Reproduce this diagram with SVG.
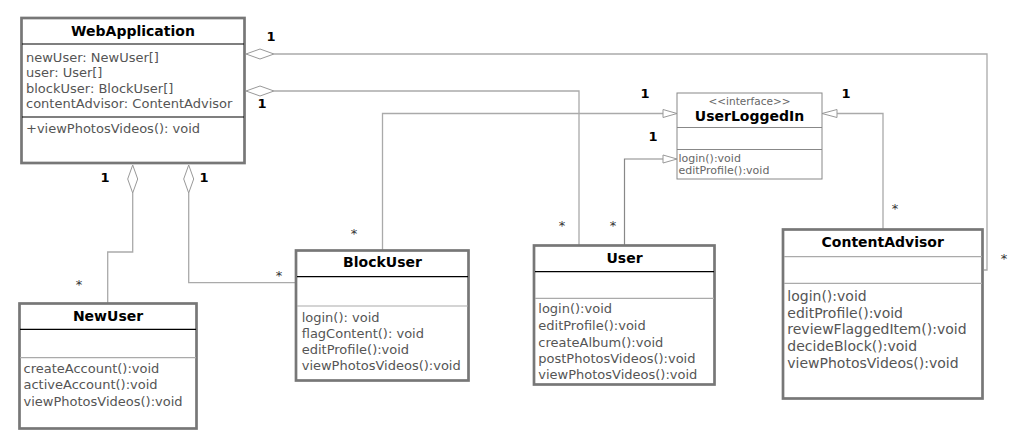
<svg xmlns="http://www.w3.org/2000/svg" width="1014" height="448" viewBox="0 0 1014 448">
  <style>
    text { font-family: "DejaVu Sans", Verdana, sans-serif; }
    .cls { fill: #fff; stroke: #777; stroke-width: 2.7; }
    .iface { fill: #fff; stroke: #888; stroke-width: 1; }
    .sepd { stroke: #000; stroke-width: 1.2; }
    .sepl { stroke: #aaa; stroke-width: 1.2; }
    .sepi { stroke: #888; stroke-width: 1; }
    .title { font-size: 14px; font-weight: bold; fill: #000; text-anchor: middle; }
    .mem { font-size: 13px; fill: #555; }
    .mem14 { font-size: 14px; fill: #555; }
    .small { font-size: 11px; fill: #666; }
    .stereo { font-size: 10.5px; fill: #666; text-anchor: middle; }
    .wire { fill: none; stroke: #aaa; stroke-width: 1.3; }
    .wire2 { fill: none; stroke: #888; stroke-width: 1.2; }
    .dia { fill: #fff; stroke: #999; stroke-width: 1; }
    .tri { fill: #fff; stroke: #999; stroke-width: 1; }
    .one { font-size: 13px; font-weight: bold; fill: #000; text-anchor: middle; }
    .many { font-size: 13px; fill: #333; text-anchor: middle; }
  </style>

  <!-- associations, aggregations and realizations -->
  <g id="connectors">
    <!-- WebApplication <>— ContentAdvisor -->
    <path class="wire" d="M274,54 H987 V270 H984"/>
    <polygon class="dia" points="246,54 260,49 274,54 260,59"/>
    <text class="one" x="271" y="41">1</text>
    <text class="many" x="1004" y="262.5">*</text>

    <!-- WebApplication <>— User -->
    <path class="wire" d="M274,91 H579 V245"/>
    <polygon class="dia" points="246,91 260,86 274,91 260,96"/>
    <text class="one" x="262" y="107.5">1</text>
    <text class="many" x="562" y="229.5">*</text>

    <!-- WebApplication <>— NewUser -->
    <path class="wire" d="M132.7,193 V252 H107.7 V303"/>
    <polygon class="dia" points="132.7,165 137.7,179 132.7,193 127.7,179"/>
    <text class="one" x="105" y="182">1</text>
    <text class="many" x="79" y="288.5">*</text>

    <!-- WebApplication <>— BlockUser -->
    <path class="wire" d="M188.7,193 V282.7 H296"/>
    <polygon class="dia" points="188.7,165 193.7,179 188.7,193 183.7,179"/>
    <text class="one" x="204" y="182">1</text>
    <text class="many" x="279" y="279.5">*</text>

    <!-- BlockUser ..|> UserLoggedIn -->
    <path class="wire" d="M382.5,250 V113.5 H663"/>
    <polygon class="tri" points="677,113.5 663,109.5 663,117.5"/>
    <text class="many" x="354" y="237.5">*</text>
    <text class="one" x="645" y="98">1</text>

    <!-- User ..|> UserLoggedIn -->
    <path class="wire2" d="M624.5,245 V159 H663"/>
    <polygon class="tri" points="677,159 663,155 663,163"/>
    <text class="many" x="613" y="229.5">*</text>
    <text class="one" x="653" y="141">1</text>

    <!-- ContentAdvisor ..|> UserLoggedIn -->
    <path class="wire" d="M883,229 V113.5 H837"/>
    <polygon class="tri" points="822,113.5 837,109.5 837,117.5"/>
    <text class="many" x="895" y="212.5">*</text>
    <text class="one" x="846" y="98">1</text>
  </g>

  <g id="WebApplication">
    <rect class="cls" x="21.5" y="18" width="223" height="145"/>
    <line class="sepd" x1="22" y1="44" x2="244" y2="44"/>
    <line class="sepd" x1="22" y1="117" x2="244" y2="117"/>
    <text class="title" x="133" y="35.5">WebApplication</text>
    <text class="mem" x="26" y="61.7">newUser: NewUser[]</text>
    <text class="mem" x="26" y="77.3">user: User[]</text>
    <text class="mem" x="26" y="92.7">blockUser: BlockUser[]</text>
    <text class="mem" x="26" y="108.3">contentAdvisor: ContentAdvisor</text>
    <text class="mem" x="26" y="133.3">+viewPhotosVideos(): void</text>
  </g>

  <g id="UserLoggedIn">
    <rect class="iface" x="677" y="93" width="145" height="86"/>
    <line class="sepi" x1="677" y1="127.5" x2="822" y2="127.5"/>
    <line class="sepi" x1="677" y1="149.5" x2="822" y2="149.5"/>
    <text class="stereo" x="749.5" y="105">&lt;&lt;interface&gt;&gt;</text>
    <text class="title" x="749.5" y="120.5">UserLoggedIn</text>
    <text class="small" x="678.5" y="162.3">login():void</text>
    <text class="small" x="678.5" y="174.3">editProfile():void</text>
  </g>

  <g id="NewUser">
    <rect class="cls" x="19.5" y="303.5" width="177" height="125"/>
    <line class="sepd" x1="20" y1="329.3" x2="196" y2="329.3"/>
    <line class="sepl" x1="20" y1="357.7" x2="196" y2="357.7"/>
    <text class="title" x="108" y="321">NewUser</text>
    <text class="mem" x="23.5" y="373.3">createAccount():void</text>
    <text class="mem" x="23.5" y="389.3">activeAccount():void</text>
    <text class="mem" x="23.5" y="405.5">viewPhotosVideos():void</text>
  </g>

  <g id="BlockUser">
    <rect class="cls" x="296" y="250.5" width="172.5" height="130"/>
    <line class="sepd" x1="297" y1="276.7" x2="468" y2="276.7"/>
    <line class="sepl" x1="297" y1="306" x2="468" y2="306"/>
    <text class="title" x="382.5" y="267.3">BlockUser</text>
    <text class="mem" x="301.7" y="322.3">login(): void</text>
    <text class="mem" x="301.7" y="338.3">flagContent(): void</text>
    <text class="mem" x="301.7" y="354.3">editProfile():void</text>
    <text class="mem" x="301.7" y="370">viewPhotosVideos():void</text>
  </g>

  <g id="User">
    <rect class="cls" x="534" y="245.5" width="180.5" height="139"/>
    <line class="sepd" x1="535" y1="271.7" x2="714" y2="271.7"/>
    <line class="sepl" x1="535" y1="298.3" x2="714" y2="298.3"/>
    <text class="title" x="624.5" y="263.3">User</text>
    <text class="mem" x="538.3" y="313.3">login():void</text>
    <text class="mem" x="538.3" y="330">editProfile():void</text>
    <text class="mem" x="538.3" y="346.7">createAlbum():void</text>
    <text class="mem" x="538.3" y="363.3">postPhotosVideos():void</text>
    <text class="mem" x="538.3" y="379">viewPhotosVideos():void</text>
  </g>

  <g id="ContentAdvisor">
    <rect class="cls" x="783" y="229.5" width="199.5" height="169"/>
    <line class="sepl" x1="784" y1="256.7" x2="982" y2="256.7"/>
    <line class="sepl" x1="784" y1="283.3" x2="982" y2="283.3"/>
    <text class="title" x="882.7" y="247.3">ContentAdvisor</text>
    <text class="mem14" x="787.3" y="301">login():void</text>
    <text class="mem14" x="787.3" y="317.7">editProfile():void</text>
    <text class="mem14" x="787.3" y="334.3">reviewFlaggedItem():void</text>
    <text class="mem14" x="787.3" y="351">decideBlock():void</text>
    <text class="mem14" x="787.3" y="367.7">viewPhotosVideos():void</text>
  </g>
</svg>
